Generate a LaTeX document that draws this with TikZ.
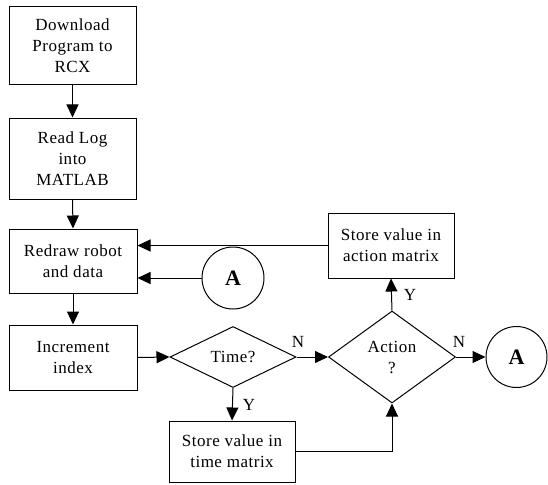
\documentclass[tikz,border=0pt]{standalone}
\usepackage{fontspec}
\setmainfont{Liberation Serif}[LetterSpace=3]
\usetikzlibrary{shapes.geometric,arrows.meta}
\begin{document}
\begin{tikzpicture}[x=1pt,y=-1pt,
  line width=1pt,
  every node/.style={font=\fontsize{17}{21}\selectfont},
  procbox/.style={draw, align=center, inner sep=0pt},
  decision/.style={draw, diamond, align=center, inner sep=0pt},
  connector/.style={draw, circle, inner sep=0pt, font=\fontsize{22}{24}\selectfont\bfseries},
  flow/.style={-{Triangle[length=13pt,width=12pt]}},
  lbl/.style={inner sep=0pt}]
\useasboundingbox (0,0) rectangle (548,484);
\node[procbox, minimum width=127pt, minimum height=78pt] (b1) at (72.5,46) {Download\\Program to\\RCX};
\node[procbox, minimum width=127pt, minimum height=81pt] (b2) at (72.5,158.5) {Read Log\\into\\MATLAB};
\node[procbox, minimum width=128pt, minimum height=64pt] (b3) at (73,261) {Redraw robot\\and data};
\node[procbox, minimum width=128pt, minimum height=65pt] (b4) at (73,357.5) {Increment\\index};
\node[decision, minimum width=126pt, minimum height=61pt] (time) at (233,357) {Time?};
\node[decision, minimum width=127pt, minimum height=92pt] (action) at (392,357) {Action\\?};
\node[procbox, minimum width=126pt, minimum height=65pt] (am) at (391,245.5) {Store value in\\action matrix};
\node[procbox, minimum width=126pt, minimum height=61pt] (tm) at (232,451.5) {Store value in\\time matrix};
\node[connector, minimum size=62pt] (a1) at (233,278) {A};
\node[connector, minimum size=61pt] (a2) at (516.5,357) {A};

\draw[flow] (b1.south) -- (b2.north);
\draw[flow] (b2.south) -- (b3.north);
\draw[flow] (b3.south) -- (b4.north);
\draw[flow] (b4.east) -- (time.west);
\draw[flow] (time.east) -- (action.west);
\draw[flow] (action.east) -- (a2.west);
\draw[flow] (action.north) -- (am.south);
\draw[flow] (am.west) -- (am.west -| b3.east);
\draw[flow] (a1.west) -- (a1.west -| b3.east);
\draw[flow] (time.south) -- (tm.north);
\draw[flow] (tm.east) -| (action.south);

\node[lbl] (n1) at (298,342) {N};
\node[lbl] (n2) at (459,342) {N};
\node[lbl] (y1) at (410,295) {Y};
\node[lbl] (y2) at (249,405) {Y};
\end{tikzpicture}
\end{document}
